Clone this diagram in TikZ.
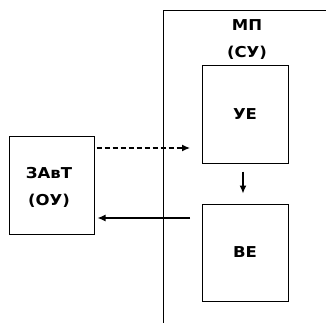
\documentclass[tikz,border=0pt]{standalone}
\usepackage{fontspec}
\setmainfont{DejaVu Sans}
\usetikzlibrary{arrows.meta}
\begin{document}
\begin{tikzpicture}[x=1pt,y=-1pt,
  blk/.style={draw,line width=1pt,inner sep=0pt},
  lbl/.style={font=\bfseries\fontsize{15}{25}\selectfont,align=center,xscale=1.1},
  arr/.style={line width=1.3pt,-{Latex[length=8pt,width=7pt]}}]
\useasboundingbox (0,0) rectangle (326,323);
% frame MP
\coordinate (fb) at (163,323);
\coordinate (ft) at (163,11);
\coordinate (fr) at (326,11);
\draw[line width=1pt] (fb) -- (ft) -- (fr);
\node[lbl] (mp) at (247,25) {МП};
\node[lbl] (su) at (247,53) {(СУ)};
% boxes
\node[blk,minimum width=86pt,minimum height=97pt] (ue) at (245,114.5) {};
\node[lbl] at (ue) {УЕ};
\node[blk,minimum width=86pt,minimum height=97pt] (ve) at (245,252.5) {};
\node[lbl] at (ve) {ВЕ};
\node[blk,minimum width=85pt,minimum height=97pt] (zt) at (51.5,185.5) {};
\node[lbl] at (49,173) {ЗАвТ};
\node[lbl] at (49,201) {(ОУ)};
% arrows
\coordinate (d1) at (190,148);
\coordinate (s1) at (190,218);
\draw[arr,dashed,dash pattern=on 5pt off 3pt] (zt.east |- d1) ++(2,0) -- (d1);
\draw[arr] (s1) -- ([xshift=3pt]zt.east |- s1);
\draw[arr] ([yshift=-8pt]ue.south -| 243,0) -- ([yshift=10pt]ve.north -| 243,0);
\end{tikzpicture}
\end{document}
